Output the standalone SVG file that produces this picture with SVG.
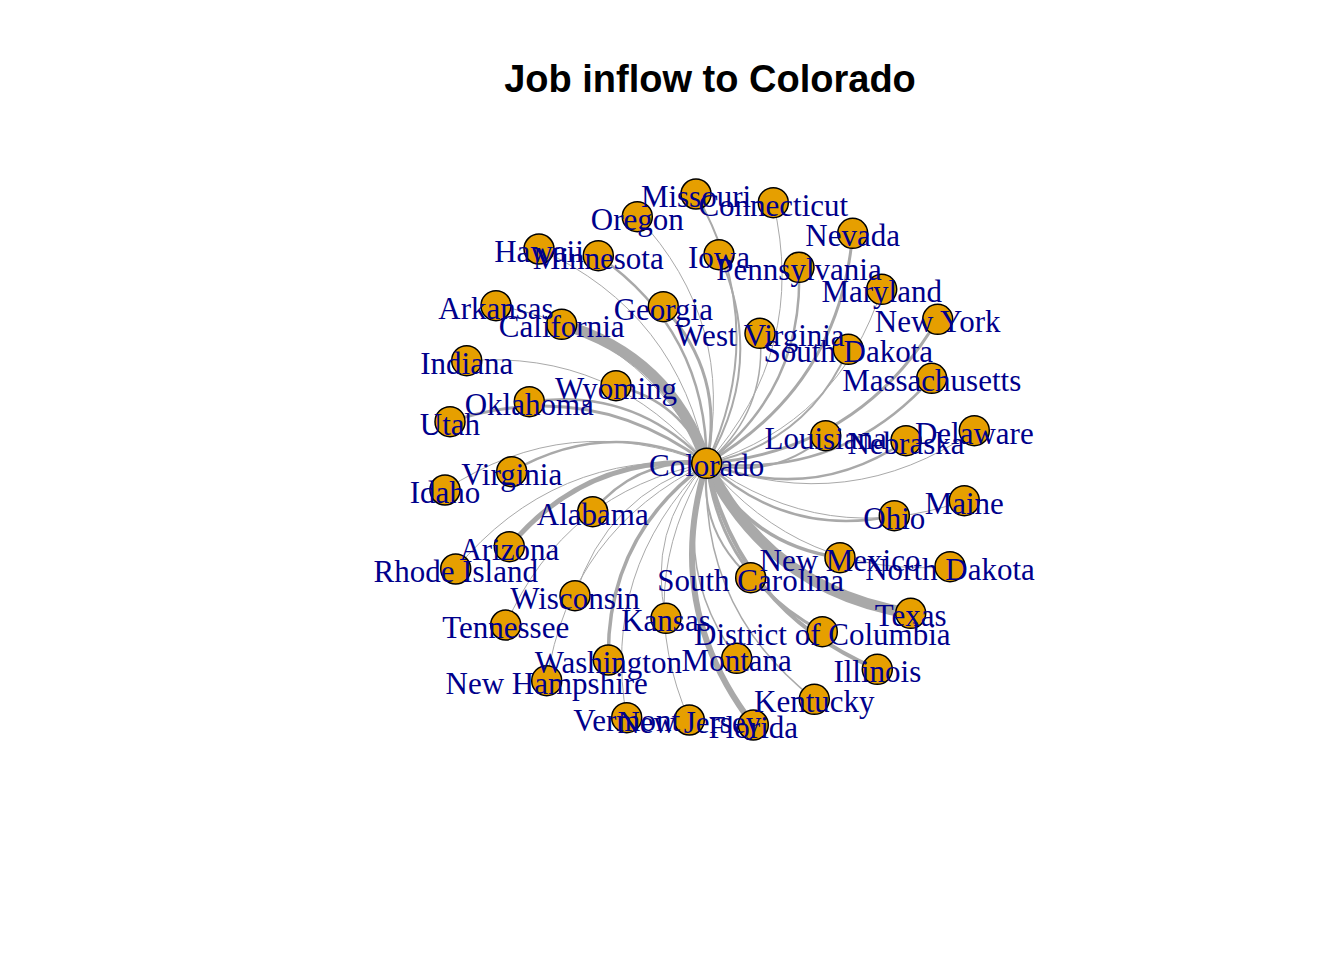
<svg xmlns="http://www.w3.org/2000/svg" width="1344" height="960" viewBox="0 0 1344 960">
<style>
.e{fill:none;stroke:#A9A9A9;stroke-linecap:butt}
.n circle{fill:#E69F00;stroke:#000;stroke-width:1.5}
.n text{font-family:"Liberation Serif","Times New Roman",serif;font-size:31px;fill:#00008B;text-anchor:middle}
.t{font-family:"Liberation Sans",Arial,sans-serif;font-size:38px;font-weight:bold;fill:#000;text-anchor:middle}
</style>
<rect width="1344" height="960" fill="#fff"/>
<text class="t" x="710" y="92">Job inflow to Colorado</text>
<g id="edges">
<path class="e" stroke-width="2" d="M696,194 Q771.4,325.9 706.7,463.3"/>
<path class="e" stroke-width="1" d="M637.3,216.7 Q736.1,322 706.7,463.3"/>
<path class="e" stroke-width="1" d="M773.3,202.7 Q807.8,350.3 706.7,463.3"/>
<path class="e" stroke-width="1" d="M539,249 Q678.6,312.6 706.7,463.3"/>
<path class="e" stroke-width="2.5" d="M598.3,255.7 Q706.5,331.3 706.7,463.3"/>
<path class="e" stroke-width="2" d="M719,254.7 Q767.1,362.2 706.7,463.3"/>
<path class="e" stroke-width="3" d="M852.7,233.3 Q839.5,386.3 706.7,463.3"/>
<path class="e" stroke-width="2.5" d="M799,267.3 Q803.9,389.3 706.7,463.3"/>
<path class="e" stroke-width="1" d="M881.7,289.3 Q839.4,421.8 706.7,463.3"/>
<path class="e" stroke-width="3" d="M937.7,319.3 Q859.6,451.4 706.7,463.3"/>
<path class="e" stroke-width="1.5" d="M760,333.3 Q767.2,412.2 706.7,463.3"/>
<path class="e" stroke-width="2" d="M848.3,349.3 Q807.1,443.1 706.7,463.3"/>
<path class="e" stroke-width="1" d="M496,305.7 Q642.4,329.7 706.7,463.3"/>
<path class="e" stroke-width="11" d="M561.7,324.3 Q670.3,356.1 706.7,463.3"/>
<path class="e" stroke-width="3" d="M663.3,306.7 Q725.7,373.7 706.7,463.3"/>
<path class="e" stroke-width="1" d="M466.7,360.7 Q613.4,349.6 706.7,463.3"/>
<path class="e" stroke-width="2.5" d="M616,385.7 Q681.6,400.9 706.7,463.3"/>
<path class="e" stroke-width="2.5" d="M529.3,401.7 Q634,386.4 706.7,463.3"/>
<path class="e" stroke-width="3" d="M450,421.7 Q589.2,375.8 706.7,463.3"/>
<path class="e" stroke-width="2.5" d="M511.7,471.7 Q607,416.8 706.7,463.3"/>
<path class="e" stroke-width="1" d="M445,490 Q569,408.7 706.7,463.3"/>
<path class="e" stroke-width="2.5" d="M592.7,511.7 Q637.1,457.9 706.7,463.3"/>
<path class="e" stroke-width="2.5" d="M931.7,378.3 Q841.3,479.3 706.7,463.3"/>
<path class="e" stroke-width="2" d="M825.7,435.7 Q773.4,480.4 706.7,463.3"/>
<path class="e" stroke-width="2.5" d="M906,440.7 Q812.3,503.8 706.7,463.3"/>
<path class="e" stroke-width="1" d="M974.3,430.7 Q849,516.6 706.7,463.3"/>
<path class="e" stroke-width="1" d="M964.3,500.7 Q825.8,549 706.7,463.3"/>
<path class="e" stroke-width="2.5" d="M894.3,515.7 Q786.9,538.3 706.7,463.3"/>
<path class="e" stroke-width="5" d="M509.3,546.7 Q586.3,453.7 706.7,463.3"/>
<path class="e" stroke-width="1" d="M455.7,569 Q553.7,450.9 706.7,463.3"/>
<path class="e" stroke-width="1" d="M575,595.7 Q606.5,495.3 706.7,463.3"/>
<path class="e" stroke-width="1" d="M505.7,625 Q564.2,491.9 706.7,463.3"/>
<path class="e" stroke-width="3.5" d="M608.3,660 Q606.4,536.1 706.7,463.3"/>
<path class="e" stroke-width="1" d="M546.7,680.7 Q570.2,530.4 706.7,463.3"/>
<path class="e" stroke-width="1" d="M626.7,717.7 Q600.6,569.7 706.7,463.3"/>
<path class="e" stroke-width="1" d="M666,618.3 Q646.1,530.2 706.7,463.3"/>
<path class="e" stroke-width="1" d="M689.3,720 Q631.3,587.2 706.7,463.3"/>
<path class="e" stroke-width="2" d="M750.7,577.7 Q699,531.9 706.7,463.3"/>
<path class="e" stroke-width="3.5" d="M840,557.7 Q748.9,545.2 706.7,463.3"/>
<path class="e" stroke-width="1" d="M950,566.7 Q801.5,578.3 706.7,463.3"/>
<path class="e" stroke-width="11" d="M910.7,613.3 Q769.7,591.3 706.7,463.3"/>
<path class="e" stroke-width="3" d="M822.3,631.7 Q720.7,577.6 706.7,463.3"/>
<path class="e" stroke-width="1.5" d="M736.7,658.3 Q671,568.6 706.7,463.3"/>
<path class="e" stroke-width="4" d="M877.3,669.3 Q738.4,610.7 706.7,463.3"/>
<path class="e" stroke-width="1.5" d="M814.3,699.3 Q699.1,609.3 706.7,463.3"/>
<path class="e" stroke-width="6" d="M753.3,725 Q662,606.3 706.7,463.3"/>
</g>
<g id="nodes">
<g id="n-colorado" class="n"><circle cx="706.7" cy="463.3" r="15"/></g>
<g id="n-missouri" class="n"><circle cx="696" cy="194" r="15"/></g>
<g id="n-oregon" class="n"><circle cx="637.3" cy="216.7" r="15"/></g>
<g id="n-connecticut" class="n"><circle cx="773.3" cy="202.7" r="15"/></g>
<g id="n-hawaii" class="n"><circle cx="539" cy="249" r="15"/></g>
<g id="n-minnesota" class="n"><circle cx="598.3" cy="255.7" r="15"/></g>
<g id="n-iowa" class="n"><circle cx="719" cy="254.7" r="15"/></g>
<g id="n-nevada" class="n"><circle cx="852.7" cy="233.3" r="15"/></g>
<g id="n-pennsylvania" class="n"><circle cx="799" cy="267.3" r="15"/></g>
<g id="n-maryland" class="n"><circle cx="881.7" cy="289.3" r="15"/></g>
<g id="n-newyork" class="n"><circle cx="937.7" cy="319.3" r="15"/></g>
<g id="n-westvirginia" class="n"><circle cx="760" cy="333.3" r="15"/></g>
<g id="n-southdakota" class="n"><circle cx="848.3" cy="349.3" r="15"/></g>
<g id="n-arkansas" class="n"><circle cx="496" cy="305.7" r="15"/></g>
<g id="n-california" class="n"><circle cx="561.7" cy="324.3" r="15"/></g>
<g id="n-georgia" class="n"><circle cx="663.3" cy="306.7" r="15"/></g>
<g id="n-indiana" class="n"><circle cx="466.7" cy="360.7" r="15"/></g>
<g id="n-wyoming" class="n"><circle cx="616" cy="385.7" r="15"/></g>
<g id="n-oklahoma" class="n"><circle cx="529.3" cy="401.7" r="15"/></g>
<g id="n-utah" class="n"><circle cx="450" cy="421.7" r="15"/></g>
<g id="n-virginia" class="n"><circle cx="511.7" cy="471.7" r="15"/></g>
<g id="n-idaho" class="n"><circle cx="445" cy="490" r="15"/></g>
<g id="n-alabama" class="n"><circle cx="592.7" cy="511.7" r="15"/></g>
<g id="n-massachusetts" class="n"><circle cx="931.7" cy="378.3" r="15"/></g>
<g id="n-louisiana" class="n"><circle cx="825.7" cy="435.7" r="15"/></g>
<g id="n-nebraska" class="n"><circle cx="906" cy="440.7" r="15"/></g>
<g id="n-delaware" class="n"><circle cx="974.3" cy="430.7" r="15"/></g>
<g id="n-maine" class="n"><circle cx="964.3" cy="500.7" r="15"/></g>
<g id="n-ohio" class="n"><circle cx="894.3" cy="515.7" r="15"/></g>
<g id="n-arizona" class="n"><circle cx="509.3" cy="546.7" r="15"/></g>
<g id="n-rhodeisland" class="n"><circle cx="455.7" cy="569" r="15"/></g>
<g id="n-wisconsin" class="n"><circle cx="575" cy="595.7" r="15"/></g>
<g id="n-tennessee" class="n"><circle cx="505.7" cy="625" r="15"/></g>
<g id="n-washington" class="n"><circle cx="608.3" cy="660" r="15"/></g>
<g id="n-newhampshire" class="n"><circle cx="546.7" cy="680.7" r="15"/></g>
<g id="n-vermont" class="n"><circle cx="626.7" cy="717.7" r="15"/></g>
<g id="n-kansas" class="n"><circle cx="666" cy="618.3" r="15"/></g>
<g id="n-newjersey" class="n"><circle cx="689.3" cy="720" r="15"/></g>
<g id="n-southcarolina" class="n"><circle cx="750.7" cy="577.7" r="15"/></g>
<g id="n-newmexico" class="n"><circle cx="840" cy="557.7" r="15"/></g>
<g id="n-northdakota" class="n"><circle cx="950" cy="566.7" r="15"/></g>
<g id="n-texas" class="n"><circle cx="910.7" cy="613.3" r="15"/></g>
<g id="n-dc" class="n"><circle cx="822.3" cy="631.7" r="15"/></g>
<g id="n-montana" class="n"><circle cx="736.7" cy="658.3" r="15"/></g>
<g id="n-illinois" class="n"><circle cx="877.3" cy="669.3" r="15"/></g>
<g id="n-kentucky" class="n"><circle cx="814.3" cy="699.3" r="15"/></g>
<g id="n-florida" class="n"><circle cx="753.3" cy="725" r="15"/></g>
</g>
<g id="labels" class="n">
<text x="706.7" y="476.3">Colorado</text>
<text x="696" y="207">Missouri</text>
<text x="637.3" y="229.7">Oregon</text>
<text x="773.3" y="215.7">Connecticut</text>
<text x="539" y="262">Hawaii</text>
<text x="598.3" y="268.7">Minnesota</text>
<text x="719" y="267.7">Iowa</text>
<text x="852.7" y="246.3">Nevada</text>
<text x="799" y="280.3">Pennsylvania</text>
<text x="881.7" y="302.3">Maryland</text>
<text x="937.7" y="332.3">New York</text>
<text x="760" y="346.3">West Virginia</text>
<text x="848.3" y="362.3">South Dakota</text>
<text x="496" y="318.7">Arkansas</text>
<text x="561.7" y="337.3">California</text>
<text x="663.3" y="319.7">Georgia</text>
<text x="466.7" y="373.7">Indiana</text>
<text x="616" y="398.7">Wyoming</text>
<text x="529.3" y="414.7">Oklahoma</text>
<text x="450" y="434.7">Utah</text>
<text x="511.7" y="484.7">Virginia</text>
<text x="445" y="503">Idaho</text>
<text x="592.7" y="524.7">Alabama</text>
<text x="931.7" y="391.3">Massachusetts</text>
<text x="825.7" y="448.7">Louisiana</text>
<text x="906" y="453.7">Nebraska</text>
<text x="974.3" y="443.7">Delaware</text>
<text x="964.3" y="513.7">Maine</text>
<text x="894.3" y="528.7">Ohio</text>
<text x="509.3" y="559.7">Arizona</text>
<text x="455.7" y="582">Rhode Island</text>
<text x="575" y="608.7">Wisconsin</text>
<text x="505.7" y="638">Tennessee</text>
<text x="608.3" y="673">Washington</text>
<text x="546.7" y="693.7">New Hampshire</text>
<text x="626.7" y="730.7">Vermont</text>
<text x="666" y="631.3">Kansas</text>
<text x="689.3" y="733">New Jersey</text>
<text x="750.7" y="590.7">South Carolina</text>
<text x="840" y="570.7">New Mexico</text>
<text x="950" y="579.7">North Dakota</text>
<text x="910.7" y="626.3">Texas</text>
<text x="822.3" y="644.7">District of Columbia</text>
<text x="736.7" y="671.3">Montana</text>
<text x="877.3" y="682.3">Illinois</text>
<text x="814.3" y="712.3">Kentucky</text>
<text x="753.3" y="738">Florida</text>
</g>
</svg>
